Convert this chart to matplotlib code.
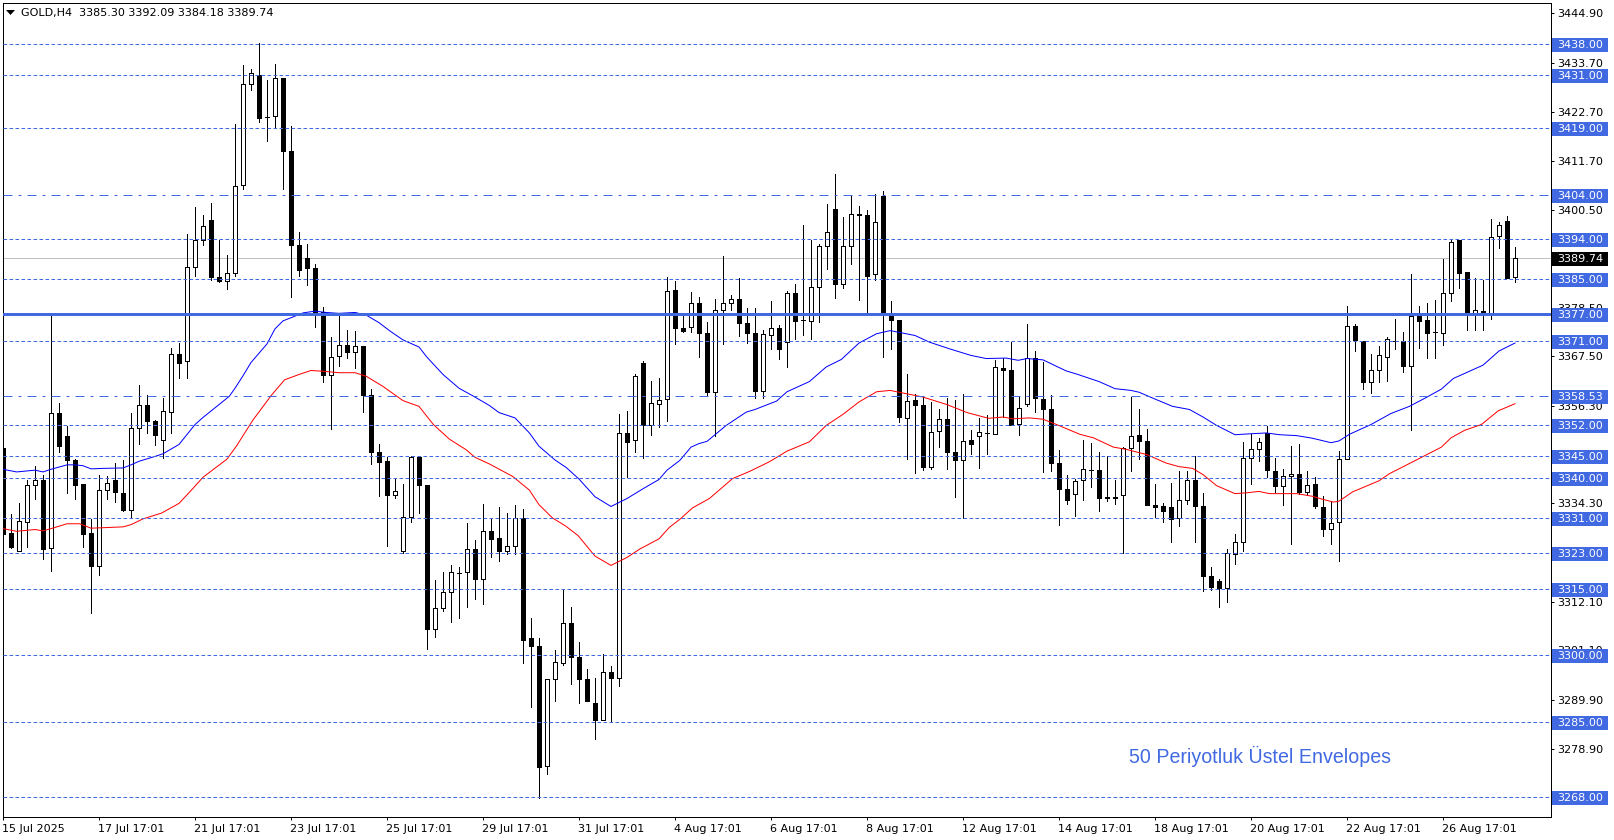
import matplotlib
matplotlib.use('Agg')
import matplotlib.pyplot as plt
from matplotlib.patches import Rectangle, Polygon
from matplotlib.transforms import blended_transform_factory, ScaledTranslation

# Candles, 190 bars
opens = [3346.8, 3327.7, 3323.5, 3330.0, 3338.4, 3339.6, 3324.2, 3354.7, 3349.5, 3344.1,
         3338.7, 3327.7, 3320.1, 3337.3, 3339.6, 3336.7, 3332.8, 3351.3, 3356.5, 3352.8,
         3348.5, 3355.0, 3368.0, 3366.4, 3387.6, 3393.8, 3398.3, 3385.5, 3384.4, 3386.2,
         3406.2, 3429.0, 3430.9, 3421.5, 3421.7, 3430.4, 3413.8, 3392.6, 3389.7, 3387.4,
         3377.4, 3363.3, 3367.5, 3370.0, 3368.4, 3369.8, 3358.7, 3345.8, 3343.9, 3336.2,
         3323.6, 3331.3, 3344.8, 3338.5, 3306.0, 3310.7, 3314.3, 3318.6, 3318.7, 3324.1,
         3317.3, 3328.0, 3326.5, 3323.6, 3324.6, 3331.0, 3303.9, 3302.1, 3275.0, 3294.7,
         3298.3, 3307.4, 3299.7, 3294.7, 3289.3, 3285.4, 3296.2, 3294.9, 3350.3, 3348.5,
         3365.9, 3352.1, 3356.8, 3357.8, 3382.4, 3373.8, 3374.1, 3379.6, 3372.7, 3359.5,
         3378.0, 3379.6, 3380.5, 3375.1, 3372.8, 3359.7, 3372.4, 3374.0, 3370.8, 3381.7,
         3375.6, 3375.5, 3383.2, 3392.5, 3400.8, 3383.8, 3392.5, 3399.7, 3399.5, 3386.1,
         3403.6, 3376.9, 3375.8, 3353.6, 3357.6, 3356.6, 3342.5, 3350.7, 3353.4, 3345.8,
         3344.0, 3348.5, 3349.4, 3350.1, 3350.0, 3364.9, 3364.5, 3352.2, 3356.8, 3367.2,
         3357.9, 3355.7, 3343.5, 3337.6, 3336.4, 3339.5, 3341.9, 3341.9, 3335.8, 3335.8,
         3336.2, 3346.8, 3349.8, 3348.4, 3334.0, 3333.6, 3333.5, 3331.0, 3335.1, 3339.5,
         3333.8, 3318.0, 3316.7, 3315.2, 3322.9, 3325.6, 3344.6, 3346.5, 3350.2, 3341.7,
         3338.2, 3340.5, 3341.0, 3336.8, 3338.7, 3333.5, 3328.6, 3330.2, 3344.4, 3374.4,
         3371.0, 3361.7, 3364.5, 3367.4, 3371.0, 3371.0, 3365.3, 3376.5, 3375.8, 3372.9,
         3372.8, 3381.7, 3393.7, 3386.5, 3377.3, 3377.8, 3377.3, 3394.7, 3398.1, 3385.3]
highs = [3349.0, 3331.8, 3334.5, 3339.6, 3342.8, 3340.8, 3376.5, 3357.0, 3351.8, 3344.3,
         3338.7, 3330.8, 3340.7, 3340.5, 3343.5, 3344.0, 3354.7, 3361.1, 3358.8, 3353.1,
         3358.2, 3369.4, 3370.6, 3395.0, 3401.3, 3399.5, 3402.2, 3393.7, 3390.4, 3419.9,
         3433.3, 3432.4, 3438.2, 3429.9, 3433.5, 3430.4, 3419.5, 3395.6, 3392.9, 3388.3,
         3378.7, 3371.9, 3376.5, 3373.5, 3373.2, 3369.8, 3360.2, 3347.8, 3344.7, 3340.1,
         3338.6, 3344.9, 3344.9, 3338.5, 3317.1, 3318.7, 3320.5, 3320.0, 3329.8, 3326.1,
         3334.1, 3330.7, 3333.4, 3332.1, 3333.9, 3333.0, 3308.4, 3303.9, 3294.7, 3301.3,
         3314.8, 3311.0, 3303.0, 3297.0, 3294.8, 3300.3, 3297.5, 3354.5, 3355.1, 3363.4,
         3366.5, 3362.0, 3362.6, 3385.5, 3384.6, 3376.5, 3382.0, 3381.0, 3375.3, 3380.5,
         3390.2, 3381.3, 3385.1, 3378.5, 3378.5, 3373.4, 3379.9, 3374.5, 3382.3, 3383.9,
         3397.2, 3393.7, 3392.8, 3401.8, 3408.6, 3398.9, 3403.9, 3401.5, 3400.5, 3404.2,
         3404.8, 3379.9, 3375.8, 3363.6, 3359.1, 3358.5, 3357.3, 3355.5, 3358.0, 3357.7,
         3358.9, 3350.8, 3353.5, 3354.2, 3366.6, 3367.1, 3370.7, 3358.4, 3374.7, 3368.8,
         3366.3, 3358.8, 3346.4, 3340.8, 3339.8, 3348.5, 3348.0, 3345.8, 3345.0, 3339.5,
         3347.1, 3358.3, 3355.5, 3351.2, 3338.6, 3334.5, 3338.8, 3341.5, 3341.7, 3345.1,
         3336.7, 3320.0, 3317.3, 3324.0, 3327.4, 3348.2, 3350.0, 3349.1, 3351.7, 3344.6,
         3342.0, 3347.3, 3347.7, 3341.7, 3340.2, 3335.9, 3334.8, 3346.1, 3378.8, 3374.9,
         3371.0, 3368.0, 3369.8, 3371.9, 3376.0, 3373.1, 3386.0, 3378.8, 3379.6, 3380.1,
         3389.4, 3393.7, 3393.7, 3386.6, 3385.2, 3384.7, 3398.6, 3397.9, 3399.1, 3392.09]
lows = [3319.9, 3324.2, 3323.5, 3324.5, 3335.4, 3321.7, 3319.1, 3345.8, 3336.6, 3335.4,
        3324.4, 3309.5, 3318.1, 3335.2, 3334.7, 3332.5, 3331.3, 3347.6, 3350.1, 3347.4,
        3344.5, 3350.1, 3362.5, 3362.5, 3385.7, 3392.7, 3384.7, 3384.2, 3382.8, 3385.7,
        3405.2, 3427.6, 3420.3, 3416.0, 3419.2, 3405.2, 3381.0, 3385.7, 3383.5, 3374.2,
        3361.6, 3351.1, 3365.4, 3367.2, 3364.8, 3355.0, 3343.1, 3336.0, 3324.7, 3335.5,
        3323.1, 3330.1, 3332.2, 3301.4, 3304.1, 3310.0, 3307.6, 3308.4, 3310.9, 3312.7,
        3311.5, 3322.1, 3321.2, 3322.9, 3322.9, 3298.2, 3288.3, 3267.9, 3273.3, 3289.8,
        3297.8, 3293.5, 3289.2, 3289.7, 3281.1, 3285.4, 3285.0, 3293.0, 3340.2, 3345.8,
        3344.5, 3349.8, 3351.5, 3352.8, 3370.3, 3373.0, 3372.9, 3367.4, 3358.6, 3349.6,
        3370.2, 3377.9, 3372.1, 3370.6, 3358.2, 3358.2, 3369.2, 3366.8, 3365.0, 3371.3,
        3372.3, 3371.3, 3375.2, 3387.2, 3380.7, 3382.9, 3388.3, 3380.1, 3376.9, 3384.7,
        3367.4, 3369.1, 3352.7, 3344.3, 3341.2, 3341.8, 3342.1, 3347.0, 3342.1, 3335.8,
        3330.9, 3345.5, 3342.3, 3345.4, 3349.9, 3353.8, 3352.1, 3349.7, 3356.3, 3354.9,
        3341.4, 3341.6, 3329.5, 3334.1, 3331.5, 3335.0, 3338.1, 3332.5, 3334.8, 3334.1,
        3323.0, 3341.7, 3344.3, 3333.9, 3331.3, 3330.1, 3325.5, 3329.2, 3334.1, 3325.5,
        3314.6, 3314.8, 3311.0, 3312.0, 3320.6, 3323.5, 3338.6, 3343.8, 3340.2, 3336.8,
        3333.9, 3325.1, 3336.5, 3336.3, 3333.2, 3326.9, 3325.1, 3321.3, 3344.4, 3368.6,
        3360.1, 3359.2, 3361.6, 3361.9, 3369.1, 3363.9, 3350.8, 3369.3, 3367.1, 3367.1,
        3370.0, 3379.9, 3382.9, 3373.4, 3373.4, 3373.4, 3375.9, 3391.9, 3385.1, 3384.18]
closes = [3327.5, 3324.5, 3330.4, 3338.5, 3339.6, 3324.1, 3354.7, 3347.2, 3344.1, 3338.5,
          3327.5, 3320.1, 3337.3, 3338.9, 3336.8, 3332.7, 3351.3, 3356.5, 3352.8, 3349.7,
          3355.2, 3368.0, 3366.1, 3387.7, 3393.8, 3396.9, 3385.3, 3384.4, 3386.3, 3405.9,
          3429.0, 3431.4, 3421.4, 3421.5, 3430.3, 3413.8, 3392.6, 3386.9, 3387.4, 3377.4,
          3363.3, 3367.3, 3370.0, 3368.4, 3369.8, 3358.7, 3345.8, 3343.7, 3336.2, 3337.0,
          3331.3, 3344.7, 3338.5, 3305.9, 3310.7, 3314.4, 3318.7, 3318.6, 3324.1, 3317.3,
          3328.0, 3326.2, 3323.6, 3324.6, 3331.0, 3303.5, 3302.1, 3274.8, 3294.7, 3298.4,
          3307.4, 3299.7, 3294.7, 3289.7, 3285.4, 3296.2, 3294.9, 3350.3, 3348.2, 3363.0,
          3352.1, 3356.9, 3357.7, 3382.2, 3373.8, 3373.2, 3379.6, 3372.8, 3359.5, 3378.0,
          3379.6, 3380.5, 3375.0, 3372.8, 3359.7, 3372.6, 3374.0, 3369.2, 3381.7, 3375.5,
          3375.6, 3383.2, 3392.5, 3395.6, 3383.8, 3392.5, 3399.7, 3399.4, 3385.6, 3397.9,
          3376.9, 3375.7, 3353.8, 3357.4, 3356.4, 3342.5, 3350.5, 3353.4, 3345.9, 3344.1,
          3348.4, 3347.7, 3350.5, 3350.1, 3365.0, 3364.4, 3352.1, 3355.9, 3367.2, 3358.1,
          3355.6, 3343.4, 3337.5, 3335.0, 3339.4, 3342.1, 3341.9, 3335.5, 3335.5, 3335.5,
          3346.8, 3349.6, 3348.4, 3333.9, 3333.5, 3332.5, 3330.7, 3335.0, 3339.5, 3333.6,
          3317.9, 3315.4, 3315.1, 3323.1, 3325.6, 3344.6, 3346.6, 3348.2, 3341.8, 3338.2,
          3340.4, 3341.0, 3336.8, 3338.5, 3333.7, 3328.5, 3329.9, 3344.3, 3374.4, 3371.1,
          3361.7, 3364.5, 3367.7, 3371.3, 3371.0, 3365.3, 3376.5, 3375.5, 3372.8, 3372.9,
          3381.7, 3393.4, 3386.3, 3377.3, 3378.0, 3377.3, 3394.5, 3397.2, 3385.1, 3389.74]

# Envelope lines, read at the points where they bend
upper_idx = [0, 1.7, 4, 5, 6, 8, 9, 10, 11, 12.5, 15, 16, 17, 19, 20, 22, 24, 25, 27, 28.3, 29, 30,
             31, 33, 34, 35, 36.4, 37.5, 39, 40.4, 42, 44, 45.4, 47, 48.3, 50, 52, 53, 55, 57, 59,
             60.8, 62, 64, 65.8, 67, 69, 70.4, 72, 74, 76, 78, 80, 82, 83, 84.6, 86, 87, 88, 90.4,
             92.9, 94, 96.7, 98, 100.8, 102.9, 104.8, 107, 109.2, 110.9, 114, 115.8, 118.3, 121,
             122.9, 125.4, 126.9, 128, 130, 132.9, 134.2, 137, 139, 141, 142, 144.2, 146.2, 148.3,
             150, 151.7, 154, 155.8, 157.9, 159.6, 161.7, 163.7, 166, 167, 168.3, 171, 173.5,
             175.8, 177.9, 179.8, 181.3, 185, 187, 189]
upper_val = [3342.0, 3341.4, 3341.8, 3341.4, 3342.0, 3343.0, 3343.0, 3342.8, 3342.1, 3342.2, 3342.3,
             3343.0, 3343.8, 3344.9, 3345.5, 3347.6, 3352.1, 3353.7, 3356.6, 3358.5, 3360.3, 3363.1,
             3366.1, 3370.3, 3373.7, 3375.5, 3376.5, 3377.3, 3377.7, 3377.4, 3377.2, 3377.4, 3376.8,
             3375.1, 3373.3, 3371.2, 3369.6, 3367.3, 3363.4, 3360.3, 3358.3, 3356.4, 3354.8, 3353.6,
             3350.2, 3347.2, 3344.1, 3342.4, 3339.8, 3335.8, 3333.6, 3335.4, 3337.6, 3339.7, 3341.8,
             3344.0, 3347.0, 3347.8, 3348.3, 3351.9, 3354.9, 3355.5, 3357.4, 3359.5, 3361.8, 3365.1,
             3366.8, 3370.5, 3372.6, 3373.3, 3372.2, 3370.7, 3369.2, 3367.7, 3367.0, 3367.1, 3366.6,
             3367.0, 3366.7, 3364.2, 3363.5, 3361.8, 3360.2, 3359.8, 3359.4, 3357.7, 3356.2, 3355.5,
             3353.8, 3351.9, 3349.8, 3350.0, 3350.2, 3349.8, 3349.6, 3349.0, 3348.0, 3348.4, 3349.9,
             3352.1, 3354.6, 3356.2, 3358.2, 3360.1, 3362.5, 3365.5, 3368.7, 3370.5]
lower_idx = [0, 1.7, 4, 5, 6, 8, 9.6, 11, 15, 16, 17.5, 19.8, 22, 23.5, 25, 28, 29.2, 31.2, 33.5, 35.2,
             37, 38.5, 40.2, 42, 44, 45.4, 47.5, 50, 52, 53.8, 55.8, 57.9, 59, 60.8, 63.7, 65.8, 67,
             68.7, 70.4, 71.9, 74, 76, 78, 79.6, 82, 83.3, 84.6, 86.2, 88.3, 91.2, 93.3, 95.8, 98,
             100.8, 102.9, 105, 107, 109.2, 110.9, 115, 118, 120.5, 123.2, 125, 126.2, 128.3, 130,
             131.7, 134.6, 136.3, 138.8, 140.4, 143, 145.4, 147, 148.7, 150, 151.7, 154, 155.5, 157,
             158.3, 161.7, 163.7, 165, 166.3, 167, 168.7, 172, 173.3, 175.8, 179.8, 181, 182.7,
             184.8, 186.9, 189]
lower_val = [3328.6, 3328.0, 3328.4, 3328.1, 3328.6, 3329.7, 3329.7, 3328.7, 3329.0, 3329.5, 3330.8,
             3332.1, 3334.3, 3337.2, 3340.2, 3344.3, 3347.3, 3353.0, 3358.6, 3362.2, 3363.4, 3364.3,
             3364.1, 3363.8, 3363.8, 3363.0, 3360.7, 3357.5, 3356.2, 3352.1, 3348.8, 3346.4, 3344.7,
             3343.2, 3340.4, 3337.3, 3334.0, 3331.0, 3329.1, 3327.0, 3322.4, 3320.3, 3322.1, 3324.0,
             3326.3, 3328.9, 3330.7, 3333.3, 3335.4, 3339.9, 3341.5, 3343.7, 3346.1, 3348.2, 3351.9,
             3354.4, 3357.2, 3359.5, 3359.8, 3358.3, 3356.6, 3354.8, 3353.5, 3353.8, 3353.4, 3353.6,
             3353.3, 3352.1, 3349.9, 3349.1, 3347.0, 3346.5, 3345.3, 3343.4, 3342.6, 3342.2, 3340.8,
             3338.3, 3336.5, 3336.7, 3337.0, 3336.5, 3336.5, 3335.9, 3335.2, 3334.6, 3334.8, 3336.9,
             3339.4, 3341.0, 3343.3, 3347.0, 3349.1, 3350.8, 3352.1, 3355.2, 3356.8]

dashed_levels = [3438, 3431, 3419, 3394, 3385, 3371, 3352, 3345, 3340, 3331, 3323, 3315, 3300, 3285, 3268]
dashdot_levels = [3404, 3358.53]
main_level = 3377
last_price = 3389.74

price_ticks = [3444.90, 3433.70, 3422.70, 3411.70, 3400.50, 3389.50, 3378.50, 3367.50, 3356.30,
               3345.30, 3334.30, 3323.30, 3312.10, 3301.10, 3289.90, 3278.90, 3267.90]
date_ticks = list(range(0, 190, 12))
date_labels = ['15 Jul 2025', '17 Jul 17:01', '21 Jul 17:01', '23 Jul 17:01', '25 Jul 17:01',
               '29 Jul 17:01', '31 Jul 17:01', '4 Aug 17:01', '6 Aug 17:01', '8 Aug 17:01',
               '12 Aug 17:01', '14 Aug 17:01', '18 Aug 17:01', '20 Aug 17:01', '22 Aug 17:01',
               '26 Aug 17:01']

W, H = 1614, 840
LEFT, RIGHT, TOP, BOTTOM = 2.5, 1550.5, 2.5, 816.7
BLUE = '#4169E1'
FONT = 'DejaVu Sans'
FS = 8.0
PX = 0.72  # one pixel in points

fig = plt.figure(figsize=(W / 100, H / 100), dpi=100)
ax = fig.add_axes([LEFT / W, 1 - BOTTOM / H, (RIGHT - LEFT) / W, (BOTTOM - TOP) / H])

# bar index 0 sits near x=3 px, 8 px per bar; 4.43 px per price unit
ax.set_xlim((LEFT - 3.0) / 8, (RIGHT - 3.0) / 8)
ax.set_ylim(3438 - (BOTTOM - 44.0) / 4.43, 3438 + (44.0 - TOP) / 4.43)

# --- candles ---
bar_x = list(range(len(opens)))
ax.vlines(bar_x, lows, highs, color='black', lw=PX, zorder=2, antialiased=False)
body_bottom = [min(o, c) for o, c in zip(opens, closes)]
body_height = [abs(c - o) for o, c in zip(opens, closes)]
body_color = ['white' if c > o else 'black' for o, c in zip(opens, closes)]
ax.bar(bar_x, body_height, bottom=body_bottom, width=0.5, color=body_color, edgecolor='black',
       linewidth=PX, zorder=2.2, antialiased=False)

# --- envelopes ---
ax.plot(upper_idx, upper_val, color='#0000FF', lw=PX, zorder=3)
ax.plot(lower_idx, lower_val, color='#FF0000', lw=PX, zorder=3)

# --- horizontal levels ---
ax.axhline(last_price, color='#C0C0C0', lw=PX, zorder=1, antialiased=False)
for lev in dashed_levels:
    ax.axhline(lev, color=BLUE, lw=PX, ls=(0, (3.6, 2.4)), zorder=4)
for lev in dashdot_levels:
    ax.axhline(lev, color=BLUE, lw=PX, ls=(0, (9, 6, 3, 6)), zorder=4)
ax.axhline(main_level, color=BLUE, lw=3 * PX, zorder=4, antialiased=False)

# --- axes ---
for s in ax.spines.values():
    s.set_linewidth(PX)
ax.yaxis.tick_right()
ax.set_yticks(price_ticks)
ax.set_yticklabels([f'{p:.2f}' for p in price_ticks], fontsize=FS, family=FONT)
ax.tick_params(axis='y', length=2.4, width=PX, pad=2.4)
ax.set_xticks(date_ticks)
ax.set_xticklabels(date_labels, fontsize=FS, family=FONT, ha='left')
ax.tick_params(axis='x', length=2.4, width=PX, pad=2.6)
shift_left = ScaledTranslation(-1.5 / 100, 0, fig.dpi_scale_trans)
for lab in ax.get_xticklabels():
    lab.set_transform(lab.get_transform() + shift_left)

# --- price labels on the right scale ---
right_tr = blended_transform_factory(ax.transAxes, ax.transData)
box_x = (1552 - LEFT) / (RIGHT - LEFT)
box_w = 56 / (RIGHT - LEFT)
text_x = (1557 - LEFT) / (RIGHT - LEFT)
box_h = 14 / 4.43
labels = [(lev, BLUE) for lev in dashed_levels + dashdot_levels + [main_level]] + [(last_price, 'black')]
for lev, col in labels:
    yc = lev - 0.2
    ax.add_patch(Rectangle((box_x, yc - box_h / 2), box_w, box_h, transform=right_tr, facecolor=col,
                           edgecolor='none', clip_on=False, zorder=6))
    ax.text(text_x, yc, f'{lev:.2f}', transform=right_tr, color='white', fontsize=FS, family=FONT,
            va='center', ha='left', clip_on=False, zorder=7)

# --- header and note ---
px = fig.transFigure
ax.add_patch(Polygon([(6 / W, 1 - 10 / H), (15 / W, 1 - 10 / H), (10.5 / W, 1 - 15 / H)], closed=True,
                     facecolor='black', edgecolor='none', transform=px, zorder=8))
fig.text(21 / W, 1 - 12.7 / H, 'GOLD,H4  3385.30 3392.09 3384.18 3389.74', fontsize=FS, family=FONT,
         va='center', ha='left')
fig.text(1129 / W, 1 - 756 / H, '50 Periyotluk Üstel Envelopes', fontsize=14.1, family='Liberation Sans',
         color=BLUE, va='center', ha='left')

fig.savefig('out.png', dpi=100)
